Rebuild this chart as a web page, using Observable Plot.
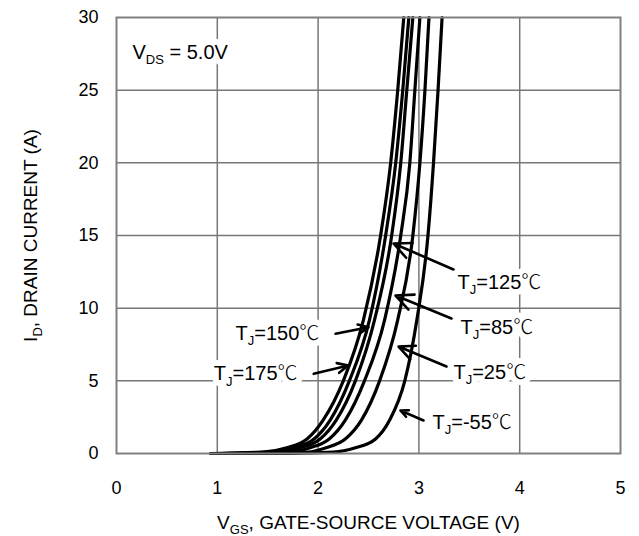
<!DOCTYPE html>
<html><head><meta charset="utf-8">
<script src="https://cdn.jsdelivr.net/npm/d3@7"></script>
<script src="https://cdn.jsdelivr.net/npm/@observablehq/plot@0.6"></script>
<style>
body{margin:0;background:#fff;}
#chart{width:639px;height:536px;}
</style></head><body><div id="chart"></div>
<script>
// Junction temperatures (°C), one transfer curve each
const temps = ["175", "150", "125", "85", "25", "-55"];
// Drain current levels (A) at which VGS was read
const currents = [0, 0.1, 0.4, 1, 2.3, 5, 9.2, 15, 20, 25, 30];
// Gate-source voltage (V) for each current level, per temperature
const vgs175 = [0.93, 1.45, 1.69, 1.89, 2.05, 2.25, 2.45, 2.62, 2.72, 2.79, 2.85];
const vgs150 = [1.00, 1.52, 1.76, 1.96, 2.12, 2.31, 2.51, 2.67, 2.77, 2.84, 2.90];
const vgs125 = [1.05, 1.60, 1.83, 2.02, 2.18, 2.37, 2.56, 2.73, 2.82, 2.88, 2.94];
const vgs85  = [1.15, 1.72, 1.92, 2.11, 2.27, 2.46, 2.66, 2.82, 2.91, 2.96, 3.01];
const vgs25  = [1.30, 1.90, 2.08, 2.27, 2.43, 2.61, 2.79, 2.94, 3.01, 3.06, 3.10];
const vgsM55 = [1.50, 2.15, 2.37, 2.57, 2.71, 2.86, 2.98, 3.09, 3.145, 3.19, 3.23];

// Axis ticks
const xTicks = [0, 1, 2, 3, 4, 5];
const yTicks = [0, 5, 10, 15, 20, 25, 30];
const xGrid = [1, 2, 3, 4];
const yGrid = [5, 10, 15, 20, 25];

// Annotations (data units)
const labelText = ["T_{J}=175℃", "T_{J}=150℃", "T_{J}=125℃", "T_{J}=85℃", "T_{J}=25℃", "T_{J}=-55℃", "V_{DS} = 5.0V"];
const labelV = [0.965, 1.181, 3.383, 3.413, 3.343, 3.135, 0.159];
const labelI = [5.48, 8.24, 11.77, 8.67, 5.57, 2.13, 27.6];
const arrowV1 = [1.957, 2.173, 3.343, 3.323, 3.274, 3.046];
const arrowI1 = [5.48, 8.24, 12.66, 9.29, 5.99, 2.27];
const arrowV2 = [2.300, 2.500, 2.748, 2.768, 2.798, 2.817];
const arrowI2 = [6.06, 8.69, 14.45, 10.87, 7.36, 2.96];

const xTitle = "V_{GS}, GATE-SOURCE VOLTAGE (V)";
const yTitle = "I_{D}, DRAIN CURRENT (A)";

const vgsAll = [vgs175, vgs150, vgs125, vgs85, vgs25, vgsM55];
const curves = temps.flatMap((t, i) => vgsAll[i].map((v, j) => ({temp: t, vgs: v, id: currents[j]})));
const labels = labelText.map((t, i) => ({text: t, x: labelV[i], y: labelI[i]}));
const arrows = arrowV1.map((v, i) => ({x1: v, y1: arrowI1[i], x2: arrowV2[i], y2: arrowI2[i]}));

const FONT = "'Liberation Sans', Arial, Helvetica, sans-serif";

const svg = Plot.plot({
  width: 639, height: 536,
  marginLeft: 116, marginRight: 19, marginTop: 17, marginBottom: 83,
  style: {fontFamily: FONT, fontSize: "18px", color: "#000", background: "#fff", overflow: "visible"},
  x: {domain: [0, 5], ticks: xTicks, tickSize: 0, tickPadding: 28, label: null, tickFormat: d => String(d)},
  y: {domain: [0, 30], ticks: yTicks, tickSize: 0, tickPadding: 18, label: null, tickFormat: d => String(d)},
  marks: [
    Plot.ruleX(xGrid, {stroke: "#777", strokeWidth: 1.5}),
    Plot.ruleY(yGrid, {stroke: "#777", strokeWidth: 1.5}),
    // white halo behind labels to interrupt the grid
    Plot.text(labels, {x: "x", y: "y", text: "text", textAnchor: "start", lineAnchor: "middle", fontSize: 20, fill: "white", stroke: "white", strokeWidth: 12}),
    Plot.line(curves, {x: "vgs", y: "id", z: "temp", stroke: "#000", strokeWidth: 3.2, curve: "monotone-x"}),
    Plot.arrow(arrows, {x1: "x1", y1: "y1", x2: "x2", y2: "y2", stroke: "#000", strokeWidth: 2.6, headLength: 11, headAngle: 50}),
    Plot.text(labels, {x: "x", y: "y", text: "text", textAnchor: "start", lineAnchor: "middle", fontSize: 20, fill: "#000"}),
    Plot.frame({stroke: "#808080", strokeWidth: 2}),
    Plot.text([yTitle], {frameAnchor: "left", dx: -86, rotate: -90, textAnchor: "middle", lineAnchor: "middle", fontSize: 19, fill: "#000"}),
    Plot.text([xTitle], {frameAnchor: "bottom", dy: 69, textAnchor: "middle", lineAnchor: "middle", fontSize: 19, fill: "#000"})
  ]
});

// Convert "_{..}" into subscripts and render ℃ with a CJK font
const NS = "http://www.w3.org/2000/svg";
svg.querySelectorAll("text").forEach(t => {
  const s = t.textContent;
  if (!/_\{|℃/.test(s)) return;
  const fs = parseFloat(t.getAttribute("font-size")) || 19;
  const parts = s.split(/(_\{[^}]*\}|℃)/).filter(p => p !== "");
  while (t.firstChild) t.removeChild(t.firstChild);
  let shifted = false;
  parts.forEach(p => {
    const ts = document.createElementNS(NS, "tspan");
    if (p.startsWith("_{")) {
      ts.textContent = p.slice(2, -1);
      ts.setAttribute("font-size", Math.round(fs * 0.7));
      ts.setAttribute("dy", (fs * 0.28).toFixed(1));
      shifted = true;
    } else {
      ts.textContent = p;
      if (p === "℃") { ts.setAttribute("font-family", "'Noto Sans CJK SC', 'Noto Sans CJK JP', 'DejaVu Sans', sans-serif"); ts.setAttribute("font-weight", "300"); }
      if (shifted) { ts.setAttribute("dy", (-fs * 0.28).toFixed(1)); shifted = false; }
    }
    t.appendChild(ts);
  });
});

document.getElementById("chart").appendChild(svg);
</script>
</body></html>
